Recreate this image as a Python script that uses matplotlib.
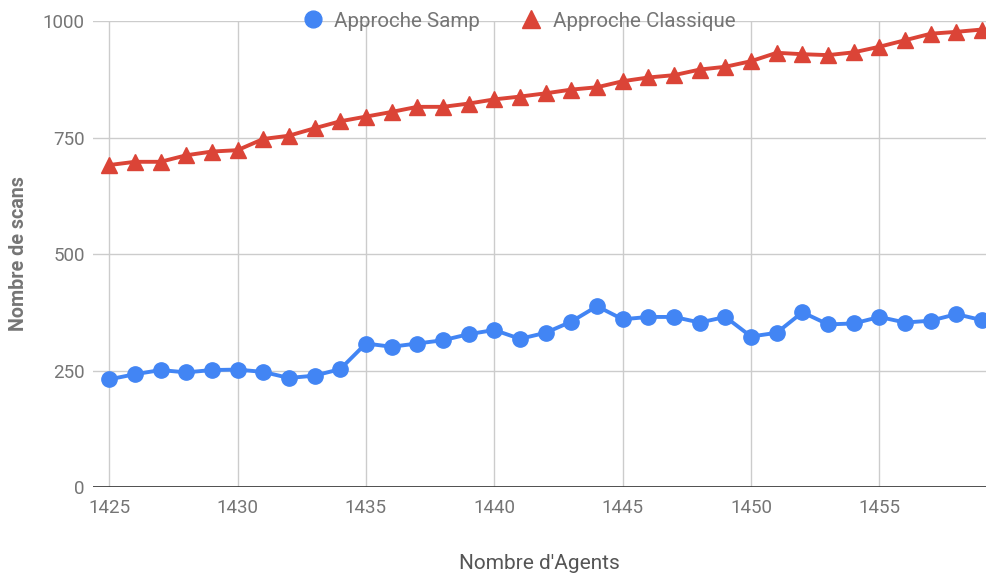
import matplotlib.pyplot as plt

agents = list(range(1425, 1460))

samp = [231, 242, 251, 246, 251, 252, 247, 234, 239, 253,
        308, 301, 308, 315, 328, 337, 318, 331, 355, 388,
        360, 365, 365, 353, 365, 323, 331, 375, 349, 351,
        365, 353, 357, 371, 358]

classique = [691, 698, 698, 712, 720, 723, 747, 754, 770, 785,
             795, 805, 816, 816, 823, 832, 838, 845, 853, 858,
             871, 879, 884, 896, 902, 914, 932, 929, 927, 933,
             945, 959, 973, 977, 982]

x_ticks = [1425, 1430, 1435, 1440, 1445, 1450, 1455]
y_ticks = [0, 250, 500, 750, 1000]

plt.rcParams['font.family'] = ['Roboto', 'DejaVu Sans']
text_grey = '#757575'

fig = plt.figure(figsize=(9.86, 5.77), dpi=100)
ax = fig.add_axes([0.0943, 0.156, 0.9057, 0.8074])

ax.plot(agents, samp, color='#4285F4', lw=2.8, marker='o', ms=11,
        label='Approche Samp', zorder=3, clip_on=False)
ax.plot(agents, classique, color='#DB4437', lw=2.8, marker='^', ms=11.5,
        label='Approche Classique', zorder=3, clip_on=False)

ax.set_xlim(1424.37, 1459.15)
ax.set_ylim(0, 1000)
ax.set_xticks(x_ticks)
ax.set_yticks(y_ticks)
ax.grid(True, color='#cccccc', lw=1)
ax.set_axisbelow(True)
ax.axhline(0, color='#333333', lw=1.2, zorder=2)

for s in ax.spines.values():
    s.set_visible(False)
ax.tick_params(length=0, labelsize=13.5, labelcolor=text_grey)
ax.tick_params(axis='x', pad=9)
ax.tick_params(axis='y', pad=6)

ax.set_xlabel("Nombre d'Agents", fontsize=15, color='#555555', labelpad=26)
ax.set_ylabel('Nombre de scans', fontsize=14.2, color=text_grey,
              fontweight='semibold')
ax.yaxis.set_label_coords(-0.073, 0.5)

ax.legend(loc='center', bbox_to_anchor=(0.477, 1.0), ncol=2, frameon=False,
          fontsize=14.8, labelcolor=text_grey, handlelength=1.0,
          handletextpad=0.55, columnspacing=2.0, markerscale=1.1)

leg = ax.get_legend()
for h in leg.legend_handles:
    h.set_linestyle('none')

fig.savefig('out.png', dpi=100)
